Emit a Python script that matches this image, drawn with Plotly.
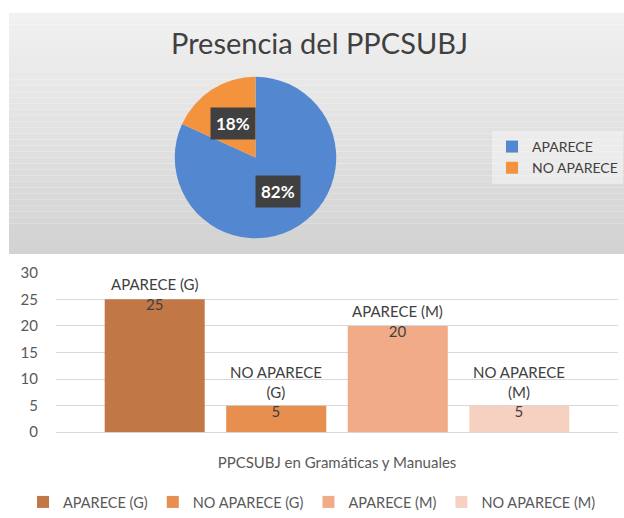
import math
import plotly.graph_objects as go

# ---------------- data ----------------
pie_labels = ["APARECE", "NO APARECE"]
pie_values = [45, 10]
pie_colors = ["#5388D1", "#F3933E"]

bar_category = "PPCSUBJ en Gramáticas y Manuales"
bar_names = ["APARECE (G)", "NO APARECE (G)", "APARECE (M)", "NO APARECE (M)"]
bar_label_text = ["APARECE (G)", "NO APARECE<br>(G)", "APARECE (M)", "NO APARECE<br>(M)"]
bar_values = [25, 5, 20, 5]
bar_colors = ["#C27746", "#E68F4F", "#F2AB88", "#F6D0C1"]
y_ticks = [0, 5, 10, 15, 20, 25, 30]

title_text = "Presencia del PPCSUBJ"

# ---------------- geometry (pixels) ----------------
W, H = 624, 518
FONT = "Lato, 'Open Sans', sans-serif"
TXT = "#595959"

pie_cx, pie_cy, pie_r = 255.5, 160.0, 82.0
pie_dom_x = [(pie_cx - pie_r) / W, (pie_cx + pie_r) / W]
pie_dom_y = [(H - pie_cy - pie_r) / H, (H - pie_cy + pie_r) / H]

plot_left, plot_right, plot_top, plot_bottom = 56, 618, 277, 439
bargap, bargroupgap = 0.135, 0.177

fig = go.Figure()

# pie
fig.add_trace(go.Pie(
    labels=pie_labels, values=pie_values, sort=False, direction="clockwise",
    rotation=0, textinfo="none", hoverinfo="label+percent",
    marker=dict(colors=pie_colors, line=dict(width=0)),
    domain=dict(x=pie_dom_x, y=pie_dom_y), legend="legend",
))

# bars
for name, val, col in zip(bar_names, bar_values, bar_colors):
    fig.add_trace(go.Bar(
        x=[bar_category], y=[val], name=name, marker=dict(color=col, line=dict(width=0)),
        legend="legend2",
    ))

annotations = []
# pie percentage labels (dark boxes), positioned from data angles
total = sum(pie_values)
cum = 0
for v in pie_values:
    theta = 2 * math.pi * (cum + v / 2) / total
    cum += v
    px = pie_cx + 0.5 * pie_r * math.sin(theta)
    py = pie_cy - 0.5 * pie_r * math.cos(theta)
    annotations.append(dict(
        x=px / W, y=1 - py / H, xref="paper", yref="paper",
        text=f"<b>{round(v / total * 100)}%</b>", showarrow=False,
        font=dict(family=FONT, size=17, color="white"),
        bgcolor="#404040", borderpad=5, xanchor="center", yanchor="middle",
    ))

# bar data labels
plot_w = plot_right - plot_left
slot = plot_w * (1 - bargap) / len(bar_values)
for i, (lab, val) in enumerate(zip(bar_label_text, bar_values)):
    annotations.append(dict(
        x=bar_category, y=val, xref="x", yref="y",
        text=f"{lab}<br>{val}", showarrow=False,
        xshift=(i - (len(bar_values) - 1) / 2) * slot, yshift=-16,
        yanchor="bottom", xanchor="center",
        font=dict(family=FONT, size=15, color="#404040"),
    ))

# grey gradient panel behind pie
shapes = []
n = 40
top_y, bot_y, left_x = 13, 258, 9
c0, c1 = (241, 241, 241), (210, 210, 210)
for k in range(n):
    t = k / (n - 1)
    c = tuple(round(c0[j] + (c1[j] - c0[j]) * t) for j in range(3))
    y0 = top_y + (bot_y - top_y) * k / n
    y1 = top_y + (bot_y - top_y) * (k + 1) / n
    shapes.append(dict(
        type="rect", xref="paper", yref="paper", layer="below",
        x0=left_x / W, x1=1, y0=1 - y1 / H, y1=1 - y0 / H,
        fillcolor=f"rgb{c}", line=dict(width=0),
    ))

fig.update_layout(
    width=W, height=H, margin=dict(l=0, r=0, t=0, b=0),
    paper_bgcolor="white", plot_bgcolor="rgba(0,0,0,0)",
    font=dict(family=FONT, color=TXT),
    title=dict(text=title_text, x=319.5 / W, xanchor="center", xref="paper",
               y=1 - 45 / H, yanchor="middle", yref="paper",
               font=dict(family=FONT, size=29, color="#404040")),
    barmode="group", bargap=bargap, bargroupgap=bargroupgap,
    xaxis=dict(domain=[plot_left / W, plot_right / W], showgrid=False, showline=False,
               ticks="outside", ticklen=17, tickcolor="rgba(0,0,0,0)",
               tickfont=dict(family=FONT, size=15, color=TXT), automargin=False,
               fixedrange=True),
    yaxis=dict(domain=[(H - plot_bottom) / H, (H - plot_top) / H], range=[0, 30],
               tickvals=y_ticks, showgrid=True, gridcolor="#D9D9D9", gridwidth=1,
               zeroline=True, zerolinecolor="#D9D9D9", zerolinewidth=1, showline=False,
               ticks="outside", ticklen=14, tickcolor="rgba(0,0,0,0)",
               tickfont=dict(family=FONT, size=15, color=TXT), automargin=False,
               fixedrange=True),
    legend=dict(x=492 / W, y=1 - 133 / H, xanchor="left", yanchor="top",
                orientation="v", bgcolor="rgba(245,245,245,0.55)",
                font=dict(family=FONT, size=14, color="#404040")),
    legend2=dict(x=0.5, y=8 / H, xanchor="center", yanchor="middle",
                 orientation="h", bgcolor="rgba(0,0,0,0)",
                 font=dict(family=FONT, size=14.5, color=TXT)),
    annotations=annotations, shapes=shapes,
    showlegend=True,
)

fig.write_html(
    "out.html",
    config={"displayModeBar": False},
    post_script="document.body.style.margin='0';document.body.style.overflow='hidden';",
)
